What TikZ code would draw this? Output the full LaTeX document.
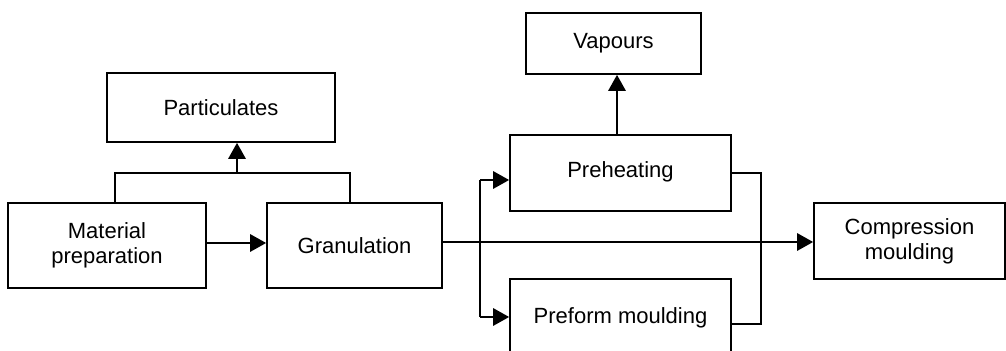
\documentclass[tikz,border=0pt]{standalone}
\usepackage{fontspec}
\setmainfont{Liberation Sans}
\usetikzlibrary{arrows.meta}
\begin{document}
\begin{tikzpicture}[x=0.5pt,y=-0.5pt,
  box/.style={draw, line width=0.8pt, inner sep=0pt, align=center, font=\fontsize{11pt}{12.5pt}\selectfont},
  thin/.style={line width=0.8pt},
  flow/.style={line width=1.4pt, -{Triangle[length=8pt,width=8.5pt]}},
  trunk/.style={line width=1.4pt}]
\useasboundingbox (0,0) rectangle (1006,351);
\node[box, minimum width=114pt, minimum height=34.5pt] (part) at (221,107.5) {Particulates};
\node[box, minimum width=99pt, minimum height=42.5pt] (mat) at (107,245.5) {Material\\preparation};
\node[box, minimum width=87.5pt, minimum height=42.5pt] (gran) at (354.5,245.5) {Granulation};
\node[box, minimum width=87.5pt, minimum height=30.5pt] (vap) at (613.5,43.5) {Vapours};
\node[box, minimum width=110.5pt, minimum height=38pt] (pre) at (620.5,173) {\raisebox{3pt}{Preheating}};
\node[box, minimum width=110.5pt, minimum height=39pt] (pref) at (620.5,318) {Preform moulding};
\node[box, minimum width=95.5pt, minimum height=38pt] (comp) at (909.5,241) {Compression\\moulding};
% particulates bracket
\coordinate (j) at (237,173);
\draw[thin] (mat.north -| 115,0) |- (350,173) -- (gran.north -| 350,0);
\draw[flow] (j) -- (j |- part.south);
% material -> granulation
\draw[flow] (mat.east |- 0,243) -- (gran.west |- 0,243);
% vapours
\draw[flow] (pre.north -| 617,0) -- (vap.south -| 617,0);
% main line
\draw[flow] (gran.east |- 0,242) -- (comp.west |- 0,242);
% branch
\coordinate (bt) at (480,180);
\coordinate (bb) at (480,317);
\draw[trunk] (bt) -- (bb);
\draw[flow] (bt) -- (pre.west |- bt);
\draw[flow] (bb) -- (pref.west |- bb);
% return line
\draw[thin] (pre.east |- 0,173) -- (761,173) -- (761,324) -- (pref.east |- 0,324);
\end{tikzpicture}
\end{document}
